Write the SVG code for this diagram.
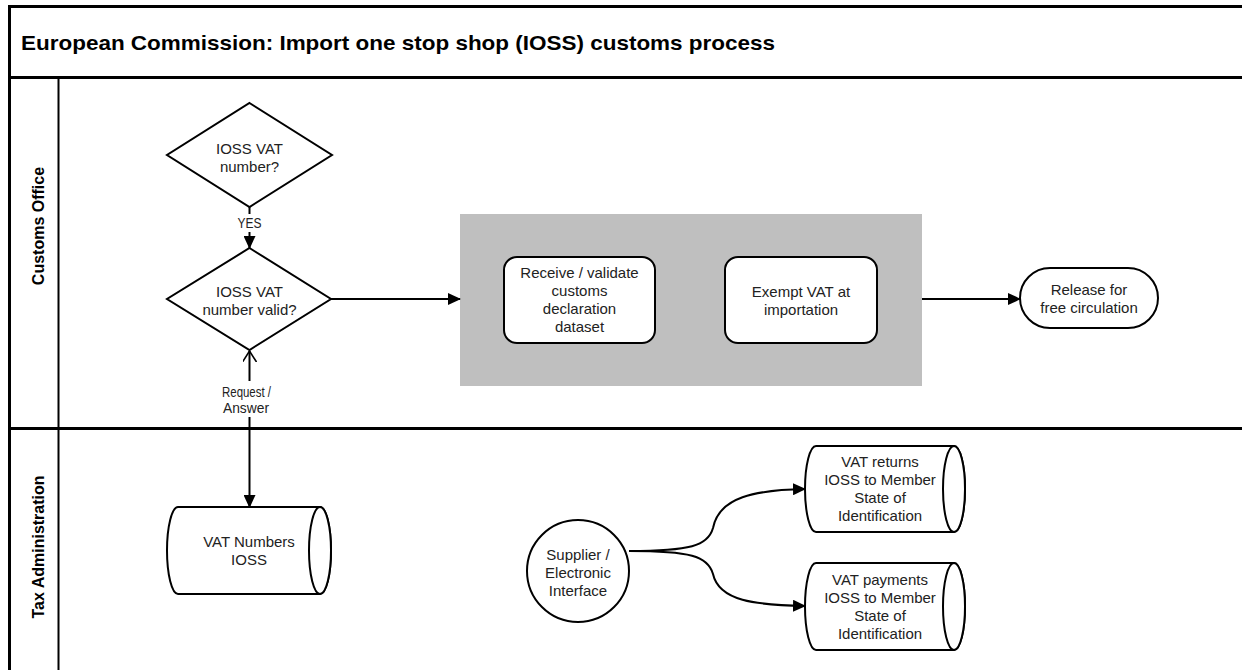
<svg xmlns="http://www.w3.org/2000/svg" width="1242" height="670" viewBox="0 0 1242 670">
<defs>
<marker id="arr" markerWidth="13" markerHeight="12" refX="12" refY="6" orient="auto" markerUnits="userSpaceOnUse">
<path d="M0,0 L13,6 L0,12 Z" fill="#000"/>
</marker>
<marker id="open" markerWidth="12" markerHeight="14" refX="11" refY="7" orient="auto" markerUnits="userSpaceOnUse">
<path d="M0,0 L11,7 L0,14" fill="none" stroke="#000" stroke-width="1.6"/>
</marker>
<style>
.t{font-family:"Liberation Sans",Arial,sans-serif;font-size:15px;fill:#222;text-anchor:middle}
.s{font-family:"Liberation Sans",Arial,sans-serif;font-size:14px;fill:#222;text-anchor:middle}
.lane{font-family:"Liberation Sans",Arial,sans-serif;font-size:16px;font-weight:bold;fill:#000;text-anchor:middle}
.title{font-family:"Liberation Sans",Arial,sans-serif;font-size:21px;font-weight:bold;fill:#000}
.shape{fill:#fff;stroke:#000;stroke-width:2}
.line{fill:none;stroke:#000;stroke-width:2}
.frame{stroke:#000;stroke-width:3;fill:none}
</style>
</defs>
<rect width="1242" height="670" fill="#fff"/>
<g id="frame">
<line class="frame" x1="8" y1="6.5" x2="1242" y2="6.5"/>
<line class="frame" x1="9.5" y1="5" x2="9.5" y2="670"/>
<line class="frame" x1="8" y1="77.5" x2="1242" y2="77.5"/>
<line class="frame" x1="8" y1="428.5" x2="1242" y2="428.5"/>
<line stroke="#000" stroke-width="2" x1="58.5" y1="77" x2="58.5" y2="670"/>
<text class="title" x="21" y="50" textLength="754" lengthAdjust="spacingAndGlyphs">European Commission: Import one stop shop (IOSS) customs process</text>
<text class="lane" transform="translate(44,226) rotate(-90)">Customs Office</text>
<text class="lane" transform="translate(44,547) rotate(-90)">Tax Administration</text>
</g>
<g id="group-box">
<rect x="460" y="214" width="462" height="172" fill="#bfbfbf"/>
</g>
<g id="connectors">
<line class="line" x1="249.5" y1="207" x2="249.5" y2="214"/>
<text class="s" x="249.5" y="228" textLength="24" lengthAdjust="spacingAndGlyphs">YES</text>
<line class="line" x1="249.5" y1="232" x2="249.5" y2="248" marker-end="url(#arr)"/>
<line class="line" x1="331" y1="299" x2="460" y2="299" marker-end="url(#arr)"/>
<line class="line" x1="249.5" y1="381" x2="249.5" y2="351" marker-end="url(#open)"/>
<text class="s" x="246.5" y="397" textLength="49" lengthAdjust="spacingAndGlyphs">Request /</text>
<text class="s" x="246" y="413" textLength="46" lengthAdjust="spacingAndGlyphs">Answer</text>
<line class="line" x1="249.5" y1="417" x2="249.5" y2="507" marker-end="url(#arr)"/>
<line class="line" x1="922" y1="299" x2="1020" y2="299" marker-end="url(#arr)"/>
<path class="line" d="M629,551 C690,551 708,546 713,528 C719,497 755,490 805,489" marker-end="url(#arr)"/>
<path class="line" d="M629,551 C690,551 708,556 713,574 C719,601 755,605 805,606" marker-end="url(#arr)"/>
</g>
<g id="dec1">
<polygon class="shape" points="249.5,103 332,155 249.5,207 167,155"/>
<text class="t" x="249.5" y="154">IOSS VAT</text>
<text class="t" x="249.5" y="172">number?</text>
</g>
<g id="dec2">
<polygon class="shape" points="249.5,248 331,299 249.5,350 167,299"/>
<text class="t" x="249.5" y="297">IOSS VAT</text>
<text class="t" x="249.5" y="315">number valid?</text>
</g>
<g id="receive">
<rect class="shape" x="504" y="257" width="151" height="86" rx="13"/>
<text class="t" x="579.5" y="278">Receive / validate</text>
<text class="t" x="579.5" y="296">customs</text>
<text class="t" x="579.5" y="314">declaration</text>
<text class="t" x="579.5" y="332">dataset</text>
</g>
<g id="exempt">
<rect class="shape" x="725" y="257" width="152" height="86" rx="13"/>
<text class="t" x="801" y="297">Exempt VAT at</text>
<text class="t" x="801" y="315">importation</text>
</g>
<g id="release">
<rect class="shape" x="1020" y="268" width="138" height="60" rx="30"/>
<text class="t" x="1089" y="295">Release for</text>
<text class="t" x="1089" y="313">free circulation</text>
</g>
<g id="vatnumbers">
<path class="shape" d="M178,507 L320,507 A11,43.5 0 0 1 320,594 L178,594 A11,43.5 0 0 1 178,507 Z"/>
<ellipse class="shape" cx="320" cy="550.5" rx="11" ry="43.5"/>
<text class="t" x="249" y="547">VAT Numbers</text>
<text class="t" x="249" y="565">IOSS</text>
</g>
<g id="supplier">
<circle class="shape" cx="578" cy="571" r="51"/>
<text class="t" x="578" y="560">Supplier /</text>
<text class="t" x="578" y="578">Electronic</text>
<text class="t" x="578" y="596">Interface</text>
</g>
<g id="vatreturns">
<path class="shape" d="M816,446 L954,446 A11,43 0 0 1 954,532 L816,532 A11,43 0 0 1 816,446 Z"/>
<ellipse class="shape" cx="954" cy="489" rx="11" ry="43"/>
<text class="t" x="880" y="467">VAT returns</text>
<text class="t" x="880" y="485">IOSS to Member</text>
<text class="t" x="880" y="503">State of</text>
<text class="t" x="880" y="521">Identification</text>
</g>
<g id="vatpayments">
<path class="shape" d="M816,563 L954,563 A11,43.5 0 0 1 954,650 L816,650 A11,43.5 0 0 1 816,563 Z"/>
<ellipse class="shape" cx="954" cy="606.5" rx="11" ry="43.5"/>
<text class="t" x="880" y="585">VAT payments</text>
<text class="t" x="880" y="603">IOSS to Member</text>
<text class="t" x="880" y="621">State of</text>
<text class="t" x="880" y="639">Identification</text>
</g>
</svg>
